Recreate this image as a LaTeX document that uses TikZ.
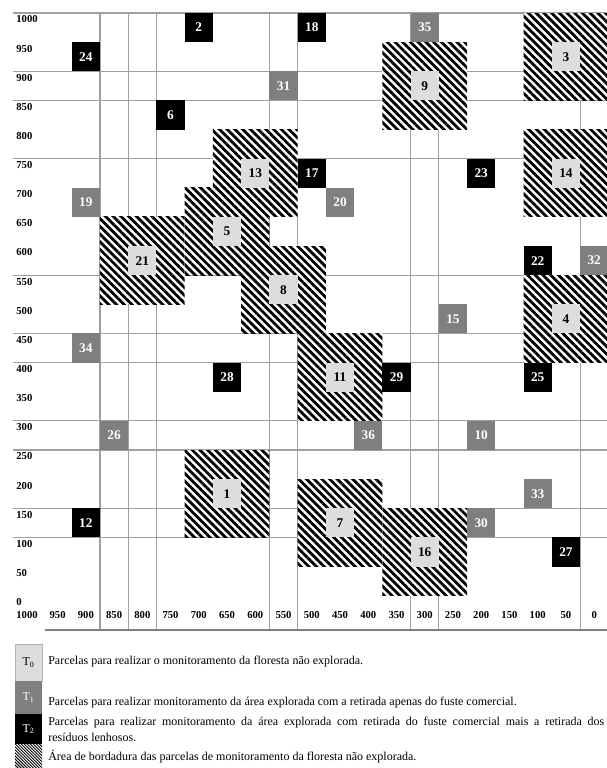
\documentclass[tikz,border=0pt]{standalone}
\usepackage{fontspec}
\setmainfont{Liberation Serif}
\usepackage{tikz}
\usetikzlibrary{patterns.meta}
\definecolor{plotlight}{HTML}{DDDDDD}
\definecolor{plotmid}{HTML}{7F7F7F}
\definecolor{gridline}{HTML}{A0A0A0}
\tikzset{
  parcela/.style={minimum width=21.18pt,minimum height=21.85pt,inner sep=0pt,
    font=\bfseries\fontsize{10}{12}\selectfont},
  tzero/.style={parcela,fill=plotlight,text=black},
  tone/.style={parcela,fill=plotmid,text=white},
  ttwo/.style={parcela,fill=black,text=white},
  bordadura/.style={preaction={fill=white},
    pattern={Lines[angle=-45,distance=4.1pt,line width=2.1pt]}},
  axislabel/.style={inner sep=0pt,font=\bfseries\fontsize{8}{9}\selectfont},
  legbox/.style={minimum width=20.25pt,inner sep=0pt,font=\fontsize{9}{10}\selectfont},
  legtext/.style={anchor=west,inner sep=0pt,align=left,font=\fontsize{9}{12}\selectfont}
}

\begin{document}
\begin{tikzpicture}[x=0.75pt,y=-0.75pt]
  \useasboundingbox (0,0) rectangle (607,768);
  \begin{scope}[shift={(43.5,13)},x=21.18pt,y=-21.85pt]
    \foreach \r in {0,2,3,5,9,11,12,14,15,17,18} \draw[gridline,line width=0.8pt] (-1.08,\r) -- (20,\r);
    \foreach \c in {2,3,4,8,9,13,14,19} \draw[gridline,line width=0.8pt] (\c,0) -- (\c,21.18);
    \draw[gray,line width=1pt] (0.05,21.18) -- (20,21.18);
    \foreach \c/\r in {18/1,13/2,7/5,18/5,6/7,3/8,8/9,18/10,10/12,6/16,10/17,13/18}
      \path[bordadura] (\c-1,\r-1) rectangle (\c+2,\r+2);
    \foreach \n/\c/\r in {3/18/1,9/13/2,13/7/5,14/18/5,5/6/7,21/3/8,8/8/9,4/18/10,11/10/12,1/6/16,7/10/17,16/13/18}
      \node[tzero] (p\n) at (\c+0.5,\r+0.5) {\n};
    \foreach \n/\c/\r in {35/13/0,31/8/2,19/1/6,20/10/6,32/19/8,15/14/10,34/1/11,26/2/14,36/11/14,10/15/14,33/17/16,30/15/17}
      \node[tone] (p\n) at (\c+0.5,\r+0.5) {\n};
    \foreach \n/\c/\r in {2/5/0,18/9/0,24/1/1,6/4/3,17/9/5,23/15/5,22/17/8,28/6/12,29/12/12,25/17/12,12/1/17,27/18/18}
      \node[ttwo] (p\n) at (\c+0.5,\r+0.5) {\n};
    \foreach \r in {0,...,20} {
      \pgfmathtruncatemacro\v{1000-50*\r}
      \node[axislabel,anchor=west] (y\r) at (-0.97,\r+0.22) {\v};
    }
    \node[axislabel,anchor=west] (x1000) at (-0.97,20.65) {1000};
    \foreach \c in {0,...,19} {
      \pgfmathtruncatemacro\v{950-50*\c}
      \node[axislabel] (x\c) at (\c+0.5,20.65) {\v};
    }
  \end{scope}
  \node[legbox,draw=gray!60,fill=plotlight,minimum height=27.75pt] (leg0) at (28.5,662.5) {T\textsubscript{0}};
  \node[legbox,fill=plotmid,text=white,minimum height=24.75pt] (leg1) at (28.5,697.5) {T\textsubscript{1}};
  \node[legbox,fill=black,text=white,minimum height=22.5pt] (leg2) at (28.5,729) {T\textsubscript{2}};
  \path[preaction={fill=white},pattern={Lines[angle=-45,distance=1.6pt,line width=0.7pt]}]
    (15,744) rectangle (42,768);
  \node[legtext] (txt0) at (48,662) {Parcelas para realizar o monitoramento da floresta não explorada.};
  \node[legtext] (txt1) at (48,703) {Parcelas para realizar monitoramento da área explorada com a retirada apenas do fuste comercial.};
  \node[legtext] (txt2) at (48,729) {\makebox[417pt][s]{Parcelas para realizar monitoramento da área explorada com retirada do fuste comercial mais a retirada dos}\\resíduos lenhosos.};
  \node[legtext] (txt3) at (48,757) {Área de bordadura das parcelas de monitoramento da floresta não explorada.};
\end{tikzpicture}
\end{document}
